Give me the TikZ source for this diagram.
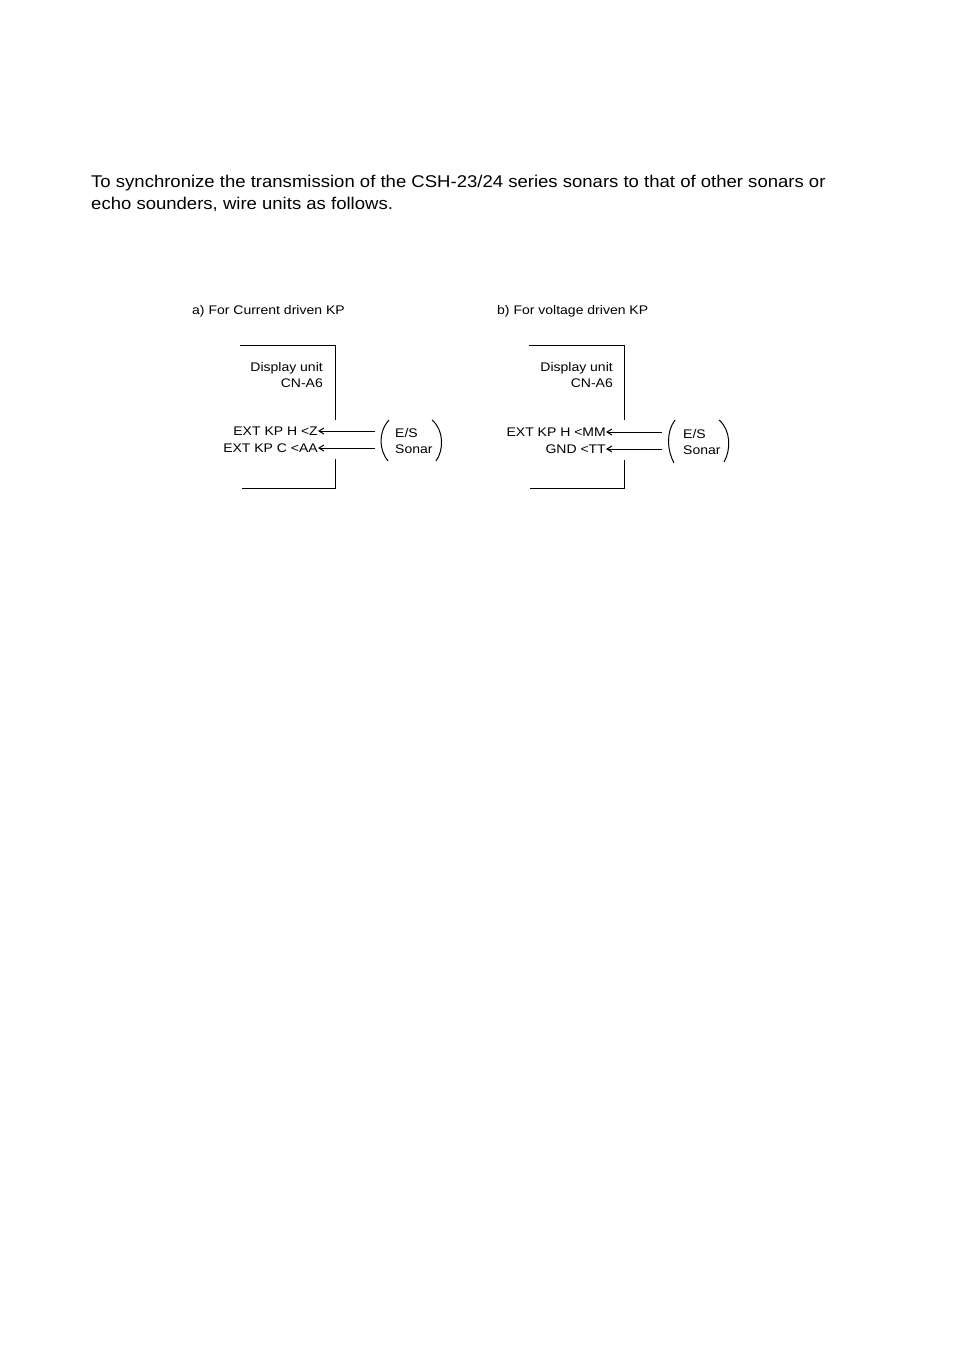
\documentclass[tikz,border=0pt]{standalone}
\usepackage{fontspec}
\setmainfont{Liberation Sans}
\newfontfamily\bodyfont[FakeStretch=1.09]{Liberation Sans}
\newfontfamily\figfont[FakeStretch=1.12]{Liberation Sans}
\usetikzlibrary{arrows.meta}

\tikzset{
  body/.style={anchor=base west, inner sep=0pt, font=\bodyfont\fontsize{17}{20}\selectfont},
  lbl/.style={inner sep=0pt, font=\figfont\fontsize{12.5}{15}\selectfont},
  frame/.style={line width=1pt},
  wire/.style={line width=1pt, {Straight Barb[length=5pt,width=6pt]}-},
}

\begin{document}
\begin{tikzpicture}[x=1pt,y=-1pt]
			%%%%% PAGE %%%%%
			\useasboundingbox (0,0) rectangle (954,1351);
			
			\node[body] (intro1) at (91,187) {To synchronize the transmission of the CSH-23/24 series sonars to that of other sonars or};
			\node[body] (intro2) at (91,210) {echo sounders, wire units as follows.};
			
			%%%%% a) CURRENT %%%%%
			\node[lbl, anchor=base west] (titleA) at (192,314) {a) For Current driven KP};
			
			\draw[frame] (240,345) -- (335,345) -- (335,420);
			\draw[frame] (335,459) -- (335,488) -- (242,488);
			\node[lbl, anchor=base east] (dispA) at (323,371) {Display unit};
			\node[lbl, anchor=base east] (cnA) at (323,387) {CN-A6};
			
			\node[lbl, anchor=east] (hotA) at (318,431) {EXT KP H <Z};
			\node[lbl, anchor=east] (coldA) at (318,448) {EXT KP C <AA};
			
			\node[lbl, anchor=base west] (esA) at (395,437) {E/S};
			\node[lbl, anchor=base west] (sonarA) at (395,453) {Sonar};
			\draw[frame] (389,420) .. controls (378,432) and (379,450) .. (388,461);
			\draw[frame] (432,420) .. controls (444,430) and (444,450) .. (436,461);
			
			\coordinate (inA1) at (375,431);
			\coordinate (inA2) at (375,448);
			\draw[wire] (hotA.east) -- (inA1);
			\draw[wire] (coldA.east) -- (inA2);
			
			%%%%% b) VOLTAGE %%%%%
			\node[lbl, anchor=base west] (titleB) at (497,314) {b) For voltage driven KP};
			
			\draw[frame] (529,345) -- (624,345) -- (624,420);
			\draw[frame] (624,460) -- (624,488) -- (530,488);
			\node[lbl, anchor=base east] (dispB) at (613,371) {Display unit};
			\node[lbl, anchor=base east] (cnB) at (613,387) {CN-A6};
			
			\node[lbl, anchor=east] (hotB) at (606,432) {EXT KP H <MM};
			\node[lbl, anchor=east] (gndB) at (606,449) {GND <TT};
			
			\node[lbl, anchor=base west] (esB) at (683,438) {E/S};
			\node[lbl, anchor=base west] (sonarB) at (683,454) {Sonar};
			\draw[frame] (675,420) .. controls (666,432) and (667,450) .. (674,463);
			\draw[frame] (719,420) .. controls (731,430) and (731,450) .. (724,462);
			
			\coordinate (inB1) at (662,432);
			\coordinate (inB2) at (662,449);
			\draw[wire] (hotB.east) -- (inB1);
			\draw[wire] (gndB.east) -- (inB2);
			
			%%%%% END %%%%%
\end{tikzpicture}
\end{document}
